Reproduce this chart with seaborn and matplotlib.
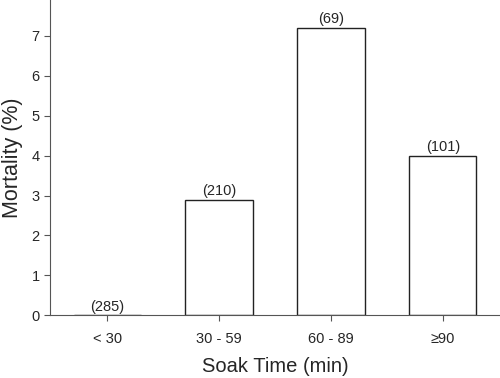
import numpy as np
import pandas as pd
import matplotlib
matplotlib.use("Agg")
import matplotlib.pyplot as plt
import seaborn as sns

# ===============================
# Data
# ===============================
soak_time = ["< 30", "30 - 59", "60 - 89", "\u226590"]
mortality = [0.0, 2.9, 7.2, 4.0]
n_labels = ["(285)", "(210)", "(69)", "(101)"]

df = pd.DataFrame({"Soak": soak_time, "Mortality": mortality})

# ===============================
# Plot
# ===============================
sns.set_style("ticks")
plt.rcParams["font.family"] = ["Liberation Sans", "DejaVu Sans"]

fig = plt.figure(figsize=(5.0, 3.78), dpi=100)
ax = fig.add_axes([0.10, 0.166, 0.90, 0.834])

sns.barplot(data=df, x="Soak", y="Mortality", color="white",
            edgecolor="#222222", linewidth=1.0, width=0.6, ax=ax)

for i, (v, lab) in enumerate(zip(mortality, n_labels)):
    ax.text(i, v + 0.04, lab, ha="center", va="bottom", fontsize=10.5)

ax.set_xlim(-0.51, 3.51)
ax.set_ylim(0, 7.9)
ax.set_yticks(range(0, 8))
ax.set_xlabel("Soak Time (min)", fontsize=14.5, labelpad=8)
ax.set_ylabel("Mortality (%)", fontsize=15.5, labelpad=6)
ax.tick_params(axis="both", labelsize=10.5, length=4, color="#555555")
ax.tick_params(axis="x", pad=8)
sns.despine(ax=ax)
for s in ["left", "bottom"]:
    ax.spines[s].set_color("#555555")

fig.savefig("out.png", dpi=100)
